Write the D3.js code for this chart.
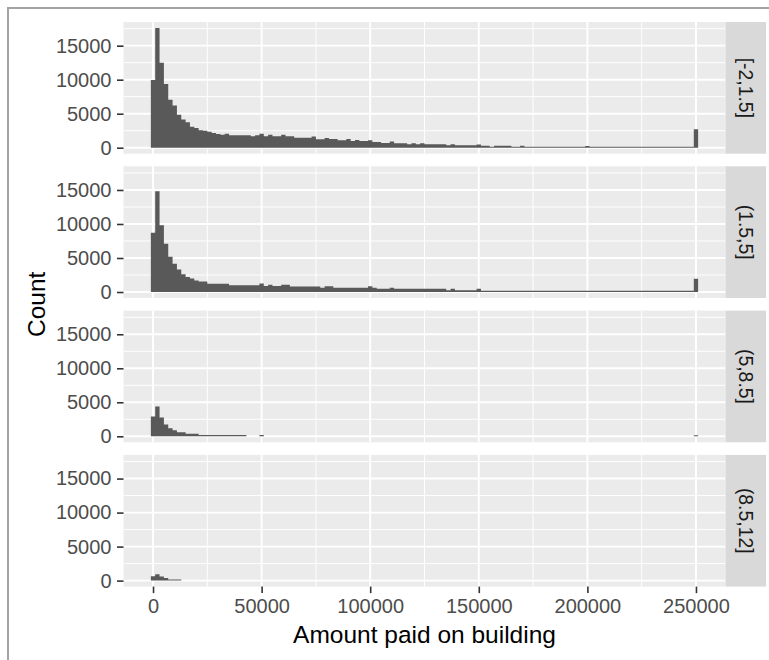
<!DOCTYPE html>
<html>
<head>
<meta charset="utf-8">
<script src="https://cdn.jsdelivr.net/npm/d3@7"></script>
<style>
  body { margin: 0; background: #ffffff; }
  svg { display: block; }
  text { font-family: "Liberation Sans", Arial, sans-serif; }
</style>
</head>
<body>
<svg id="chart" width="769" height="660"></svg>
<script>
// Facet strip labels (rows of the grid)
const facetLabels = ["[-2,1.5]", "(1.5,5]", "(5,8.5]", "(8.5,12]"];

// Histogram bins: centred on 0, 2000, 4000, ... 250000
const binWidth = 2000;

// Counts per bin, one array per facet row
const countsA = [
  9950, 17600, 12500, 9350, 7050, 6200, 4850, 4150, 3750, 3100,
  2900, 2550, 2500, 2350, 2150, 2000, 1900, 2050, 1850, 1850,
  1850, 1850, 1850, 1700, 1850, 2050, 1700, 1900, 1700, 1700,
  1900, 1700, 1700, 1450, 1480, 1480, 1480, 1650, 1250, 1250,
  1430, 1290, 1290, 1090, 1090, 1290, 990, 1140, 990, 990,
  1090, 850, 850, 700, 700, 900, 650, 650, 650, 510,
  650, 510, 650, 510, 510, 510, 510, 510, 360, 510,
  360, 360, 360, 360, 360, 460, 300, 300, 160, 300,
  300, 300, 300, 160, 160, 300, 160, 150, 150, 160,
  150, 140, 150, 150, 140, 150, 140, 140, 150, 140,
  260, 140, 130, 140, 130, 130, 140, 130, 130, 130,
  140, 130, 130, 130, 130, 140, 130, 130, 130, 130,
  130, 130, 130, 140, 130, 2700
];
const countsB = [
  8700, 14800, 9800, 7100, 5200, 4150, 3300, 2600, 2200, 2000,
  1700, 1550, 1550, 1200, 1200, 1200, 1200, 1200, 1000, 1000,
  1000, 1000, 1000, 1000, 1000, 1250, 870, 1050, 870, 870,
  1050, 1050, 810, 810, 810, 810, 810, 810, 810, 640,
  860, 860, 610, 610, 610, 610, 610, 610, 610, 610,
  860, 610, 470, 470, 470, 610, 470, 470, 470, 470,
  470, 470, 470, 470, 470, 470, 470, 470, 270, 470,
  270, 270, 270, 270, 270, 470, 200, 190, 190, 200,
  190, 190, 190, 200, 190, 190, 190, 190, 190, 190,
  190, 190, 190, 190, 190, 190, 190, 190, 190, 190,
  200, 190, 190, 190, 190, 190, 190, 190, 190, 190,
  190, 190, 190, 190, 190, 190, 190, 190, 190, 190,
  190, 190, 190, 190, 190, 1950
];
const countsC = [
  2900, 4400, 2750, 1750, 1200, 880, 590, 590, 390, 390,
  390, 200, 200, 200, 200, 200, 200, 200, 200, 200,
  200, 200, 0, 0, 0, 200, 0, 0, 0, 0,
  0, 0, 0, 0, 0, 0, 0, 0, 0, 0,
  0, 0, 0, 0, 0, 0, 0, 0, 0, 0,
  0, 0, 0, 0, 0, 0, 0, 0, 0, 0,
  0, 0, 0, 0, 0, 0, 0, 0, 0, 0,
  0, 0, 0, 0, 0, 0, 0, 0, 0, 0,
  0, 0, 0, 0, 0, 0, 0, 0, 0, 0,
  0, 0, 0, 0, 0, 0, 0, 0, 0, 0,
  0, 0, 0, 0, 0, 0, 0, 0, 0, 0,
  0, 0, 0, 0, 0, 0, 0, 0, 0, 0,
  0, 0, 0, 0, 0, 150
];
const countsD = [
  650, 950, 600, 400, 170, 170, 170, 0, 0, 0,
  0, 0, 0, 0, 0, 0, 0, 0, 0, 0,
  0, 0, 0, 0, 0, 0, 0, 0, 0, 0,
  0, 0, 0, 0, 0, 0, 0, 0, 0, 0,
  0, 0, 0, 0, 0, 0, 0, 0, 0, 0,
  0, 0, 0, 0, 0, 0, 0, 0, 0, 0,
  0, 0, 0, 0, 0, 0, 0, 0, 0, 0,
  0, 0, 0, 0, 0, 0, 0, 0, 0, 0,
  0, 0, 0, 0, 0, 0, 0, 0, 0, 0,
  0, 0, 0, 0, 0, 0, 0, 0, 0, 0,
  0, 0, 0, 0, 0, 0, 0, 0, 0, 0,
  0, 0, 0, 0, 0, 0, 0, 0, 0, 0,
  0, 0, 0, 0, 0, 0
];

const xTicks = [0, 50000, 100000, 150000, 200000, 250000];
const xMinorTicks = [25000, 75000, 125000, 175000, 225000];
const yTicks = [0, 5000, 10000, 15000];
const yMinorTicks = [2500, 7500, 12500, 17500];

const xTitle = "Amount paid on building";
const yTitle = "Count";

// ---- layout ----
const panelLeft = 123.5, panelRight = 725.5, stripRight = 766;
const firstTop = 22, panelH = 131.7, panelStep = 144.3;
const bg = "#EBEBEB", barFill = "#595959", stripFill = "#D9D9D9";
const tickFont = 20, titleFont = 24.5;

const series = [countsA, countsB, countsC, countsD];
const nBins = countsA.length;

// x scale: bar extent plus 5% expansion on both sides
const barMin = -binWidth / 2;
const barMax = (nBins - 1) * binWidth + binWidth / 2;
const xPad = (barMax - barMin) * 0.05;
const x = d3.scaleLinear()
  .domain([barMin - xPad, barMax + xPad])
  .range([panelLeft, panelRight]);

// shared y scale (fixed across facets), 5% expansion
const yMax = d3.max(series, s => d3.max(s));
const y = d3.scaleLinear()
  .domain([-0.05 * yMax, 1.05 * yMax])
  .range([panelH, 0]);

// histogram outline: a step area over the bin edges, so adjacent bars join without seams
const histArea = d3.area()
  .curve(d3.curveStepAfter)
  .x(d => x(d.edge))
  .y0(y(0))
  .y1(d => y(d.count));

const svg = d3.select("#chart");

// outer frame
svg.append("rect")
  .attr("x", 8).attr("y", 8)
  .attr("width", 780).attr("height", 700)
  .attr("fill", "none")
  .attr("stroke", "#A3A3A3")
  .attr("stroke-width", 2);

series.forEach((counts, k) => {
  const top = firstTop + k * panelStep;
  const g = svg.append("g").attr("transform", `translate(0,${top})`);

  // panel background
  g.append("rect")
    .attr("x", panelLeft).attr("y", 0)
    .attr("width", panelRight - panelLeft).attr("height", panelH)
    .attr("fill", bg);

  // minor grid
  g.append("g").selectAll("line").data(xMinorTicks).join("line")
    .attr("x1", d => x(d)).attr("x2", d => x(d))
    .attr("y1", 0).attr("y2", panelH)
    .attr("stroke", "#fff").attr("stroke-width", 0.95);
  g.append("g").selectAll("line").data(yMinorTicks).join("line")
    .attr("x1", panelLeft).attr("x2", panelRight)
    .attr("y1", d => y(d)).attr("y2", d => y(d))
    .attr("stroke", "#fff").attr("stroke-width", 0.95);

  // major grid
  g.append("g").selectAll("line").data(xTicks).join("line")
    .attr("x1", d => x(d)).attr("x2", d => x(d))
    .attr("y1", 0).attr("y2", panelH)
    .attr("stroke", "#fff").attr("stroke-width", 1.9);
  g.append("g").selectAll("line").data(yTicks).join("line")
    .attr("x1", panelLeft).attr("x2", panelRight)
    .attr("y1", d => y(d)).attr("y2", d => y(d))
    .attr("stroke", "#fff").attr("stroke-width", 1.9);

  // histogram bars
  const steps = counts.map((c, i) => ({ edge: i * binWidth - binWidth / 2, count: c }));
  steps.push({ edge: (counts.length - 1) * binWidth + binWidth / 2, count: counts[counts.length - 1] });
  g.append("path")
    .datum(steps)
    .attr("d", histArea)
    .attr("fill", barFill);

  // strip on the right
  g.append("rect")
    .attr("x", panelRight).attr("y", 0)
    .attr("width", stripRight - panelRight).attr("height", panelH)
    .attr("fill", stripFill);
  g.append("text")
    .attr("transform", `translate(${(panelRight + stripRight) / 2},${panelH / 2}) rotate(90)`)
    .attr("text-anchor", "middle")
    .attr("dy", "0.36em")
    .attr("font-size", tickFont * 0.97)
    .attr("fill", "#1A1A1A")
    .text(facetLabels[k]);

  // y axis
  const ya = g.append("g")
    .attr("transform", `translate(${panelLeft},0)`)
    .call(d3.axisLeft(y).tickValues(yTicks).tickFormat(d3.format("d"))
      .tickSize(6.5).tickPadding(5.5));
  ya.select(".domain").remove();
  ya.selectAll(".tick line").attr("stroke", "#333333").attr("stroke-width", 1.6);
  ya.selectAll(".tick text")
    .attr("font-size", tickFont)
    .attr("font-family", "Liberation Sans, Arial, sans-serif")
    .attr("fill", "#4D4D4D");

  // x axis on the bottom panel only
  if (k === series.length - 1) {
    const xa = g.append("g")
      .attr("transform", `translate(0,${panelH})`)
      .call(d3.axisBottom(x).tickValues(xTicks).tickFormat(d3.format("d"))
        .tickSize(6.5).tickPadding(5.5));
    xa.select(".domain").remove();
    xa.selectAll(".tick line").attr("stroke", "#333333").attr("stroke-width", 1.6);
    xa.selectAll(".tick text")
      .attr("font-size", tickFont)
      .attr("font-family", "Liberation Sans, Arial, sans-serif")
      .attr("fill", "#4D4D4D");
  }
});

// axis titles
const panelsBottom = firstTop + (series.length - 1) * panelStep + panelH;
svg.append("text")
  .attr("x", (panelLeft + panelRight) / 2)
  .attr("y", 643)
  .attr("text-anchor", "middle")
  .attr("font-size", titleFont)
  .attr("fill", "#000")
  .text(xTitle);

svg.append("text")
  .attr("transform", `translate(44.5,${(firstTop + panelsBottom) / 2}) rotate(-90)`)
  .attr("text-anchor", "middle")
  .attr("font-size", titleFont)
  .attr("fill", "#000")
  .text(yTitle);
</script>
</body>
</html>
